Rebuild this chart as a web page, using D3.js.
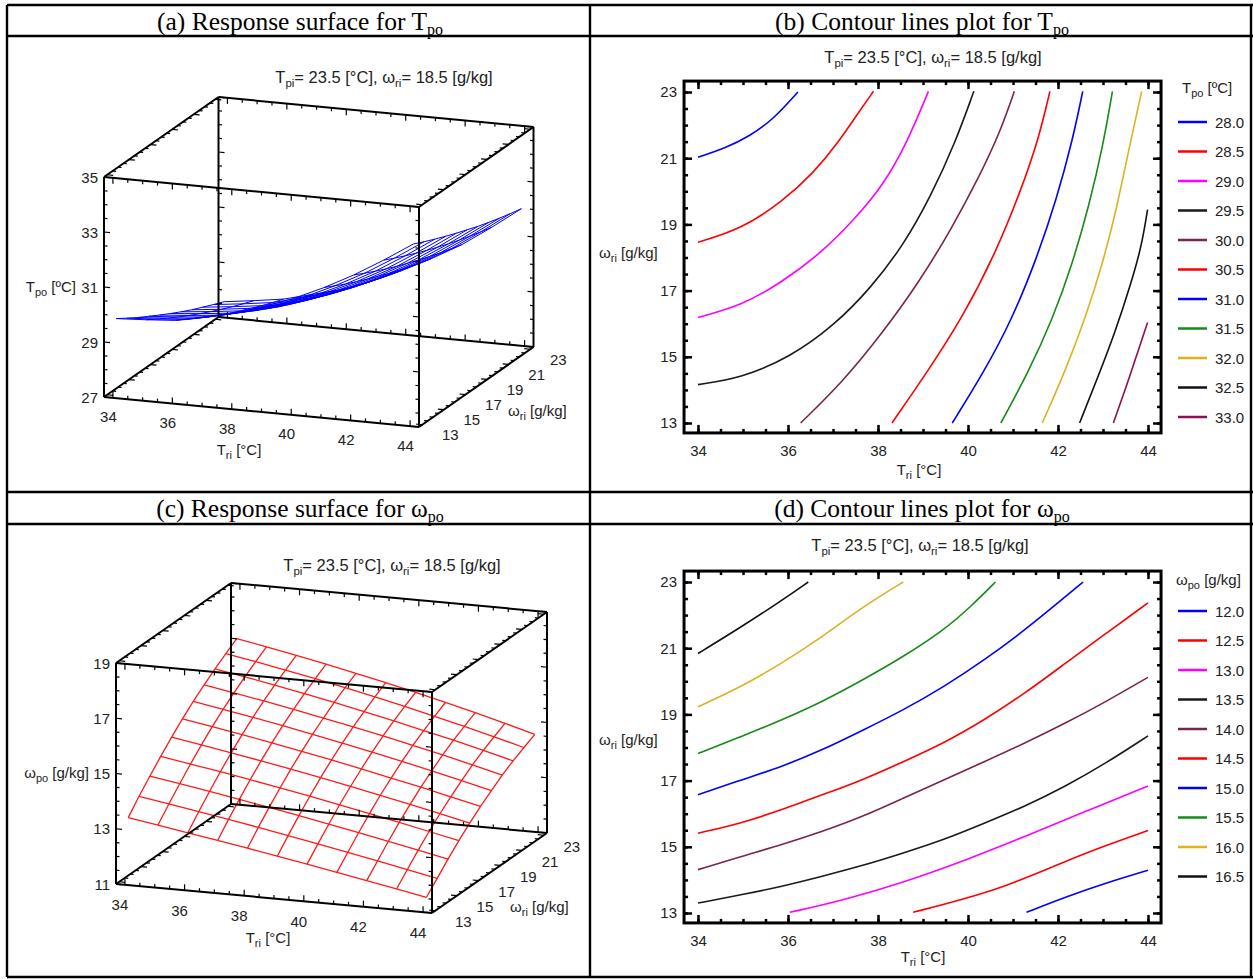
<!DOCTYPE html>
<meta charset="utf-8">
<style>
body { margin: 0; background: #fff; }
svg { display: block; }
text { font-family: "Liberation Sans", Arial, sans-serif; fill: #222; font-size: 15px; }
.hdr { font-family: "Liberation Serif", "Times New Roman", serif; font-size: 25.5px; fill: #000; }
.subt { font-size: 16.5px; }
.tick text { font-size: 15px; }
</style>
<svg width="1253" height="979"></svg>
<script src="https://cdn.jsdelivr.net/npm/d3@7"></script>
<script>

// ---- data ----
var triTicks = [34, 36, 38, 40, 42, 44];
var wriTicks = [13, 15, 17, 19, 21, 23];
var tpoTicks = [27, 29, 31, 33, 35];
var wpoTicks = [11, 13, 15, 17, 19];

// surface grids: rows = wri 13..23, columns = Tri 34..44
var gridTri = [34, 35, 36, 37, 38, 39, 40, 41, 42, 43, 44];
var gridWri = [13, 14, 15, 16, 17, 18, 19, 20, 21, 22, 23];

var tpoSurface = [
  [29.80, 29.86, 29.94, 30.18, 30.42, 30.76, 31.16, 31.65, 32.21, 32.85, 33.54],
  [29.54, 29.61, 29.70, 29.94, 30.19, 30.53, 30.94, 31.44, 32.00, 32.65, 33.35],
  [29.29, 29.37, 29.47, 29.71, 29.96, 30.32, 30.73, 31.23, 31.80, 32.46, 33.17],
  [29.06, 29.14, 29.24, 29.50, 29.75, 30.11, 30.54, 31.04, 31.61, 32.28, 33.00],
  [28.83, 28.92, 29.03, 29.29, 29.54, 29.92, 30.35, 30.86, 31.43, 32.11, 32.84],
  [28.61, 28.71, 28.83, 29.09, 29.35, 29.73, 30.17, 30.69, 31.27, 31.95, 32.69],
  [28.40, 28.51, 28.64, 28.90, 29.17, 29.55, 30.00, 30.52, 31.11, 31.80, 32.54],
  [28.20, 28.32, 28.46, 28.72, 28.99, 29.39, 29.84, 30.37, 30.96, 31.66, 32.41],
  [28.02, 28.14, 28.28, 28.56, 28.83, 29.23, 29.70, 30.23, 30.82, 31.53, 32.29],
  [27.84, 27.97, 28.12, 28.40, 28.67, 29.09, 29.56, 30.09, 30.69, 31.41, 32.18],
  [27.67, 27.81, 27.97, 28.25, 28.53, 28.95, 29.43, 29.97, 30.57, 31.30, 32.08]
];

var wpoSurface = [
  [13.35, 13.18, 13.00, 12.82, 12.64, 12.45, 12.26, 12.06, 11.86, 11.66, 11.45],
  [13.85, 13.67, 13.49, 13.31, 13.12, 12.92, 12.72, 12.51, 12.30, 12.09, 11.87],
  [14.31, 14.13, 13.95, 13.76, 13.57, 13.37, 13.16, 12.95, 12.74, 12.52, 12.29],
  [14.75, 14.57, 14.39, 14.20, 14.00, 13.80, 13.59, 13.37, 13.15, 12.92, 12.69],
  [15.17, 14.99, 14.80, 14.61, 14.41, 14.20, 13.98, 13.76, 13.53, 13.29, 13.05],
  [15.56, 15.38, 15.19, 14.99, 14.78, 14.57, 14.34, 14.11, 13.88, 13.63, 13.38],
  [15.92, 15.73, 15.54, 15.34, 15.12, 14.90, 14.68, 14.44, 14.20, 13.94, 13.68],
  [16.24, 16.05, 15.86, 15.65, 15.44, 15.22, 14.99, 14.75, 14.50, 14.24, 13.97],
  [16.55, 16.36, 16.16, 15.95, 15.73, 15.50, 15.26, 15.01, 14.76, 14.49, 14.21],
  [16.83, 16.64, 16.43, 16.22, 15.99, 15.76, 15.51, 15.25, 14.99, 14.71, 14.42],
  [17.10, 16.90, 16.69, 16.47, 16.24, 16.00, 15.75, 15.48, 15.21, 14.92, 14.62]
];

// contour lines, points are [Tri, wri]
var tpoLevels = ["28.0", "28.5", "29.0", "29.5", "30.0", "30.5", "31.0", "31.5", "32.0", "32.5", "33.0"];
var tpoContours = [
  [[34.0, 21.03], [34.6, 21.30], [35.14, 21.66], [35.68, 22.18], [36.22, 23.0]],
  [[34.0, 18.46], [34.96, 18.86], [35.86, 19.67], [36.58, 20.57], [37.12, 21.48], [37.57, 22.39], [37.90, 23.02]],
  [[34.0, 16.19], [34.96, 16.54], [35.86, 17.25], [36.76, 18.16], [37.48, 19.16], [38.11, 20.17], [38.65, 21.48], [39.12, 23.02]],
  [[34.0, 14.16], [34.96, 14.36], [36.04, 14.98], [37.03, 15.95], [37.84, 17.08], [38.56, 18.36], [39.18, 19.87], [39.72, 21.48], [40.13, 23.02]],
  [[36.28, 13.0], [37.21, 14.23], [38.11, 15.74], [38.91, 17.25], [39.63, 18.86], [40.26, 20.47], [40.71, 21.78], [41.03, 23.02]],
  [[38.31, 13.0], [39.09, 14.53], [39.90, 16.24], [40.62, 18.16], [41.16, 19.97], [41.57, 21.58], [41.82, 23.02]],
  [[39.65, 13.0], [40.35, 14.53], [40.98, 16.14], [41.52, 17.95], [41.97, 19.77], [42.33, 21.58], [42.55, 23.02]],
  [[40.73, 13.0], [41.34, 14.53], [41.88, 16.14], [42.33, 17.85], [42.69, 19.57], [43.0, 21.38], [43.21, 23.02]],
  [[41.65, 13.0], [42.15, 14.53], [42.60, 16.14], [43.0, 17.85], [43.32, 19.57], [43.59, 21.38], [43.86, 23.02]],
  [[42.48, 13.0], [42.87, 14.33], [43.27, 15.74], [43.63, 17.25], [43.86, 18.36], [43.99, 19.45]],
  [[43.23, 13.0], [43.50, 14.03], [43.77, 15.13], [43.99, 16.04]]
];

var wpoLevels = ["12.0", "12.5", "13.0", "13.5", "14.0", "14.5", "15.0", "15.5", "16.0", "16.5"];
var wpoContours = [
  [[41.30, 13.02], [42.2, 13.5], [43.1, 13.92], [44.0, 14.29]],
  [[38.78, 13.02], [39.91, 13.42], [40.81, 13.80], [41.71, 14.29], [42.61, 14.82], [44.0, 15.49]],
  [[36.04, 13.02], [37.21, 13.38], [38.56, 13.92], [40.0, 14.62], [41.26, 15.31], [42.61, 16.07], [44.0, 16.84]],
  [[34.0, 13.30], [34.96, 13.55], [35.86, 13.80], [36.76, 14.11], [37.66, 14.43], [38.56, 14.81], [39.46, 15.21], [40.36, 15.71], [41.26, 16.22], [42.16, 16.82], [43.06, 17.52], [44.0, 18.35]],
  [[34.0, 14.31], [34.96, 14.71], [35.86, 15.06], [36.76, 15.46], [37.66, 15.91], [38.56, 16.47], [39.46, 17.02], [40.36, 17.57], [41.26, 18.13], [42.16, 18.73], [43.06, 19.38], [44.0, 20.12]],
  [[34.0, 15.41], [34.96, 15.71], [35.86, 16.12], [36.76, 16.57], [37.66, 17.02], [38.56, 17.57], [39.46, 18.13], [40.36, 18.83], [41.26, 19.63], [42.16, 20.54], [43.06, 21.44], [44.0, 22.37]],
  [[34.0, 16.57], [34.96, 17.02], [35.86, 17.42], [36.76, 17.92], [37.66, 18.52], [38.56, 19.13], [39.46, 19.83], [40.36, 20.64], [41.26, 21.54], [42.16, 22.55], [42.56, 23.0]],
  [[34.0, 17.82], [34.96, 18.33], [35.86, 18.83], [36.76, 19.38], [37.66, 20.04], [38.56, 20.74], [39.46, 21.54], [40.09, 22.29], [40.61, 23.0]],
  [[34.0, 19.23], [34.96, 19.83], [35.86, 20.54], [36.76, 21.34], [37.66, 22.25], [38.56, 23.0]],
  [[34.0, 20.84], [34.96, 21.64], [35.86, 22.44], [36.45, 23.0]]
];

var levelColors = ["#0000ff", "#ff0000", "#ff00ff", "#1a1a1a", "#7a2450", "#ff0000", "#0000ff", "#178a17", "#e0b020", "#111111", "#8e1050"];

// ---- drawing ----
var svg = d3.select("svg"),
    width = +svg.attr("width"),
    height = +svg.attr("height");

svg.append("rect").attr("width", width).attr("height", height).attr("fill", "#fff");

// writes a list of [text, isSubscript] pieces into a <text>
function rich(textSel, parts, subSize, subDy) {
  var down = false;
  parts.forEach(function(p) {
    var t = textSel.append("tspan").text(p[0]);
    if (p[1]) {
      t.attr("font-size", subSize);
      if (!down) t.attr("dy", subDy);
      down = true;
    } else if (down) {
      t.attr("dy", -subDy);
      down = false;
    }
  });
  return textSel;
}

// table frame
var colX = [7, 590, 1251], rowY = [5, 36, 492, 524, 977];
var table = svg.append("g").attr("stroke", "#000").attr("stroke-width", 2.4);
colX.forEach(function(x) {
  table.append("line").attr("x1", x).attr("x2", x).attr("y1", rowY[0]).attr("y2", rowY[4]);
});
rowY.forEach(function(y) {
  table.append("line").attr("x1", colX[0]).attr("x2", 1253).attr("y1", y).attr("y2", y);
});

var headers = [
  {x: 300, y: 30, parts: [["(a) Response surface for T"], ["po", 1]]},
  {x: 922, y: 30, parts: [["(b) Contour lines plot for T"], ["po", 1]]},
  {x: 300, y: 517, parts: [["(c) Response surface for ω"], ["po", 1]]},
  {x: 922, y: 517, parts: [["(d) Contour lines plot for ω"], ["po", 1]]}
];
headers.forEach(function(h) {
  rich(svg.append("text").attr("class", "hdr").attr("x", h.x).attr("y", h.y)
    .attr("text-anchor", "middle"), h.parts, "16px", 5);
});

var subtitleParts = [["T"], ["pi", 1], ["= 23.5 [°C], ω"], ["ri", 1], ["= 18.5 [g/kg]"]];
var triTitle = [["T"], ["ri", 1], [" [°C]"]];
var wriTitle = [["ω"], ["ri", 1], [" [g/kg]"]];

// ---------- 3D response surface ----------
function drawSurface(cfg) {
  var g = svg.append("g");
  var tS = d3.scaleLinear().domain([33.7, 44.3]).range([0, 1]);
  var wS = d3.scaleLinear().domain([12.7, 23.3]).range([0, 1]);
  var zS = d3.scaleLinear().domain(cfg.zDomain).range([0, 1]);
  function proj(t, w, z) {
    var a = tS(t), b = wS(w), c = zS(z);
    return [cfg.o[0] + a * cfg.eT[0] + b * cfg.eW[0] + c * cfg.eZ[0],
            cfg.o[1] + a * cfg.eT[1] + b * cfg.eW[1] + c * cfg.eZ[1]];
  }
  function unit(v) { var l = Math.hypot(v[0], v[1]); return [v[0] / l, v[1] / l]; }
  var uT = unit(cfg.eT), uZ = unit(cfg.eZ);
  var t0 = 33.7, t1 = 44.3, w0 = 12.7, w1 = 23.3, z0 = cfg.zDomain[0], z1 = cfg.zDomain[1];

  // mesh
  var line = d3.line();
  var mesh = g.append("g").attr("fill", "none").attr("stroke", cfg.color)
    .attr("stroke-width", cfg.meshWidth);
  gridWri.forEach(function(w, j) {
    mesh.append("path").attr("d", line(gridTri.map(function(t, i) { return proj(t, w, cfg.grid[j][i]); })));
  });
  gridTri.forEach(function(t, i) {
    mesh.append("path").attr("d", line(gridWri.map(function(w, j) { return proj(t, w, cfg.grid[j][i]); })));
  });

  // box edges
  var box = g.append("g").attr("stroke", "#000").attr("stroke-width", 2).attr("fill", "none");
  var edges = [];
  [w0, w1].forEach(function(w) { [z0, z1].forEach(function(z) { edges.push([proj(t0, w, z), proj(t1, w, z)]); }); });
  [t0, t1].forEach(function(t) { [z0, z1].forEach(function(z) { edges.push([proj(t, w0, z), proj(t, w1, z)]); }); });
  [t0, t1].forEach(function(t) { [w0, w1].forEach(function(w) { edges.push([proj(t, w, z0), proj(t, w, z1)]); }); });
  edges.forEach(function(e) { box.append("path").attr("d", line(e)); });

  // ticks
  var ticks = g.append("g").attr("stroke", "#000").attr("stroke-width", 1.2);
  function tick(p, dir, len) {
    ticks.append("line").attr("x1", p[0]).attr("y1", p[1])
      .attr("x2", p[0] + dir[0] * len).attr("y2", p[1] + dir[1] * len);
  }
  var tVals = d3.range(34, 44.01, 0.5), wVals = d3.range(13, 23.01, 0.5),
      zVals = d3.range(z0, z1 + 0.01, 0.5);
  [w0, w1].forEach(function(w) {
    [z0, z1].forEach(function(z) {
      var d = z === z0 ? uZ : [-uZ[0], -uZ[1]];
      tVals.forEach(function(t) { tick(proj(t, w, z), d, triTicks.indexOf(t) >= 0 ? 6 : 3.5); });
    });
  });
  [t0, t1].forEach(function(t) {
    var d = t === t0 ? uT : [-uT[0], -uT[1]];
    [z0, z1].forEach(function(z) {
      wVals.forEach(function(w) { tick(proj(t, w, z), d, wriTicks.indexOf(w) >= 0 ? 6 : 3.5); });
    });
    [w0, w1].forEach(function(w) {
      zVals.forEach(function(z) { tick(proj(t, w, z), d, cfg.zTicks.indexOf(z) >= 0 ? 6 : 3.5); });
    });
  });

  // tick labels
  cfg.zTicks.forEach(function(z) {
    var p = proj(t0, w0, z);
    g.append("text").attr("x", p[0] - 6).attr("y", p[1] + 5.5).attr("text-anchor", "end").text(z);
  });
  triTicks.forEach(function(t) {
    var p = proj(t, w0, z0);
    g.append("text").attr("x", p[0] + cfg.tLabOff[0]).attr("y", p[1] + cfg.tLabOff[1] + 5.5)
      .attr("text-anchor", "middle").text(t);
  });
  wriTicks.forEach(function(w) {
    var p = proj(t1, w, z0);
    g.append("text").attr("x", p[0] + cfg.wLabOff[0]).attr("y", p[1] + cfg.wLabOff[1] + 5.5)
      .attr("text-anchor", "middle").text(w);
  });

  // titles
  rich(g.append("text").attr("x", cfg.zTitle[0]).attr("y", cfg.zTitle[1] + 5)
    .attr("text-anchor", "end"), cfg.zParts, "11px", 4);
  rich(g.append("text").attr("x", cfg.tTitle[0]).attr("y", cfg.tTitle[1] + 5)
    .attr("text-anchor", "middle"), triTitle, "11px", 4);
  rich(g.append("text").attr("x", cfg.wTitle[0]).attr("y", cfg.wTitle[1] + 5)
    .attr("text-anchor", "start"), wriTitle, "11px", 4);
  rich(g.append("text").attr("class", "subt").attr("x", cfg.sub[0]).attr("y", cfg.sub[1] + 5)
    .attr("text-anchor", "middle"), subtitleParts, "11.5px", 4);
}

// ---------- contour panel ----------
function drawContour(cfg) {
  var g = svg.append("g");
  var x = d3.scaleLinear().domain([34, 44]).range([698, 1148]);
  var y = d3.scaleLinear().domain([13, 23]).range(cfg.yRange);
  var fx0 = x(33.69), fx1 = x(44.29), fy0 = y(23.33), fy1 = y(12.7);

  var line = d3.line().x(function(d) { return x(d[0]); }).y(function(d) { return y(d[1]); })
    .curve(d3.curveBasis);
  g.append("g").selectAll("path").data(cfg.contours).enter().append("path")
    .attr("d", line).attr("fill", "none").attr("stroke-width", 1.6)
    .attr("stroke", function(d, i) { return levelColors[i]; });

  var minorX = d3.range(34, 44.01, 0.5), minorY = d3.range(13, 23.01, 0.5);
  function axis(gen, tr, vals, size, labels, pad) {
    var a = g.append("g").attr("transform", tr)
      .call(gen.tickValues(vals).tickSize(-size).tickPadding(pad || 3)
        .tickFormat(labels ? d3.format("d") : ""));
    a.select(".domain").remove();
    a.attr("font-family", null).attr("font-size", null);
    a.selectAll("line").attr("stroke-width", 2.5);
    return a;
  }
  axis(d3.axisBottom(x), "translate(0," + fy1 + ")", minorX, 4);
  axis(d3.axisBottom(x), "translate(0," + fy1 + ")", triTicks, 8, true, 12);
  axis(d3.axisTop(x), "translate(0," + fy0 + ")", minorX, 4);
  axis(d3.axisTop(x), "translate(0," + fy0 + ")", triTicks, 8);
  axis(d3.axisLeft(y), "translate(" + fx0 + ",0)", minorY, 4);
  axis(d3.axisLeft(y), "translate(" + fx0 + ",0)", wriTicks, 8, true, 7);
  axis(d3.axisRight(y), "translate(" + fx1 + ",0)", minorY, 4);
  axis(d3.axisRight(y), "translate(" + fx1 + ",0)", wriTicks, 8);

  g.append("rect").attr("x", fx0).attr("y", fy0).attr("width", fx1 - fx0).attr("height", fy1 - fy0)
    .attr("fill", "none").attr("stroke", "#000").attr("stroke-width", 3);

  rich(g.append("text").attr("class", "subt").attr("x", cfg.sub[0]).attr("y", cfg.sub[1] + 5)
    .attr("text-anchor", "middle"), subtitleParts, "11.5px", 4);
  rich(g.append("text").attr("x", cfg.xTitle[0]).attr("y", cfg.xTitle[1] + 5)
    .attr("text-anchor", "middle"), triTitle, "11px", 4);
  rich(g.append("text").attr("x", cfg.yTitle[0]).attr("y", cfg.yTitle[1] + 5)
    .attr("text-anchor", "start"), wriTitle, "11px", 4);

  // legend
  var leg = g.append("g");
  rich(leg.append("text").attr("x", cfg.legTitle[0]).attr("y", cfg.legTitle[1] + 5), cfg.legParts, "11px", 4);
  var ly = d3.scaleLinear().domain([0, 1]).range([cfg.legY0, cfg.legY0 + 29.5]);
  var items = leg.selectAll("g").data(cfg.levels).enter().append("g")
    .attr("transform", function(d, i) { return "translate(0," + ly(i) + ")"; });
  items.append("line").attr("x1", 1178).attr("x2", 1207)
    .attr("stroke", function(d, i) { return levelColors[i]; }).attr("stroke-width", 2.5);
  items.append("text").attr("x", 1215).attr("y", 5.5).text(function(d) { return d; });
}

drawSurface({
  o: [104, 397], eT: [315, 30], eW: [114.5, -80], eZ: [0, -220],
  zDomain: [27, 35], zTicks: tpoTicks, grid: tpoSurface, color: "#0000ff", meshWidth: 1,
  tLabOff: [-4.5, 19], wLabOff: [28, 10],
  zTitle: [76, 287], zParts: [["T"], ["po", 1], [" [ºC]"]],
  tTitle: [239, 450], wTitle: [508, 411], sub: [384, 78]
});
drawSurface({
  o: [116, 884], eT: [316, 29], eW: [115, -80], eZ: [0, -221],
  zDomain: [11, 19], zTicks: wpoTicks, grid: wpoSurface, color: "#ff1a1a", meshWidth: 1.3,
  tLabOff: [-5, 20], wLabOff: [28, 11],
  zTitle: [89, 773], zParts: [["ω"], ["po", 1], [" [g/kg]"]],
  tTitle: [268, 938], wTitle: [510, 907], sub: [392, 566]
});

drawContour({
  yRange: [423, 92], levels: tpoLevels, contours: tpoContours,
  sub: [933, 58], xTitle: [919, 470], yTitle: [599, 253],
  legTitle: [1182, 88], legY0: 122, legParts: [["T"], ["po", 1], [" [ºC]"]]
});
drawContour({
  yRange: [913, 582], levels: wpoLevels, contours: wpoContours,
  sub: [920, 546], xTitle: [923, 957], yTitle: [599, 740],
  legTitle: [1176, 580], legY0: 611, legParts: [["ω"], ["po", 1], [" [g/kg]"]]
});

</script>
